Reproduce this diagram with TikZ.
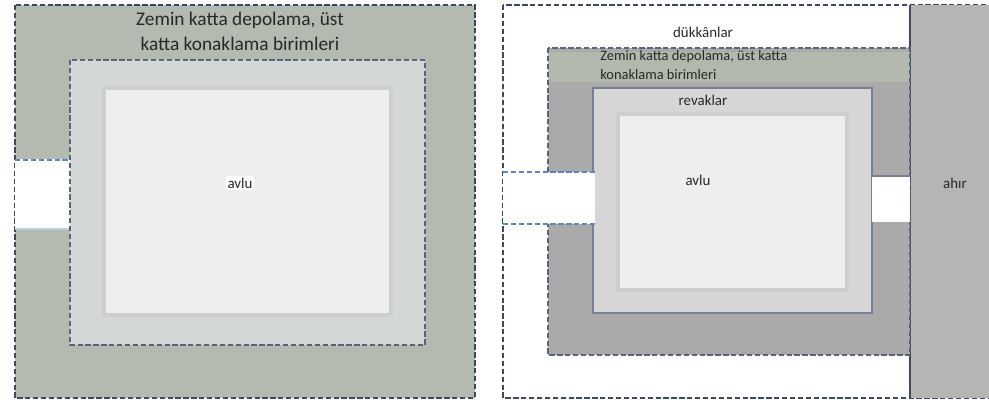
\documentclass[tikz,border=0pt]{standalone}
\usepackage{fontspec}
\setmainfont{Carlito}
\usepackage{tikz}
\usetikzlibrary{positioning}
\definecolor{myframe}{RGB}{60,72,100}
\definecolor{myblue}{RGB}{90,135,195}
\definecolor{outgreen}{RGB}{181,186,176}
\definecolor{bandgray}{RGB}{211,215,213}
\definecolor{yardgray}{RGB}{238,238,238}
\definecolor{yardedge}{RGB}{205,207,207}
\definecolor{midgray}{RGB}{170,170,170}
\definecolor{midgreen}{RGB}{178,184,172}
\definecolor{revgray}{RGB}{213,214,213}
\definecolor{colgray}{RGB}{180,182,180}
\definecolor{txtdark}{RGB}{40,40,40}
\tikzset{
  outerbox/.style={draw=myframe, dash pattern=on 3pt off 1.5pt, line width=1.1pt},
  bandbox/.style={draw=myframe!85, dash pattern=on 3pt off 1.5pt, line width=1pt},
  yardbox/.style={fill=yardgray, draw=yardedge, line width=2pt},
  gapline/.style={draw=myblue, dash pattern=on 3pt off 1.5pt, line width=1.1pt},
  lbl/.style={font=\fontsize{8.5}{10}\selectfont, color=txtdark, inner sep=1pt},
  titlelbl/.style={font=\fontsize{11}{14.2}\selectfont, color=txtdark, align=center, inner sep=0pt},
  smalltitle/.style={font=\fontsize{8.2}{10.8}\selectfont, color=txtdark, align=left, inner sep=0pt}
}
\begin{document}
\begin{tikzpicture}[x=0.02cm, y=-0.02cm]
  \useasboundingbox (0,0) rectangle (989,402);
  % left plan
  \fill[outgreen] (15,5) rectangle (475,398);
  \draw[outerbox] (15,5) rectangle (475,398);
  \fill[white] (15,159) rectangle (70,230);
  \draw[gapline] (15,160) -- (70,160);
  \draw[myblue!40, line width=0.6pt] (15,229) -- (70,229);
  \fill[bandgray] (70,60) rectangle (425,345);
  \draw[bandbox] (70,60) rectangle (425,345);
  \draw[yardbox] (104,88) rectangle (391,315);
  \node[titlelbl] (lefttitle) at (240,31) {Zemin katta depolama, üst\\katta konaklama birimleri};
  \node[lbl, fill=white] (leftyard) at (240,183) {avlu};
  % right plan
  \fill[white] (503,5) rectangle (988,398);
  \draw[outerbox] (503,5) rectangle (988,398);
  \fill[colgray] (910,5) rectangle (989,398);
  \draw[myframe, line width=0.9pt] (910,5) -- (910,398);
  \fill[midgray] (548,48) rectangle (910,355);
  \fill[midgreen] (548,52) rectangle (910,82);
  \draw[bandbox] (548,48) rectangle (910,355);
  \fill[revgray] (593,88) rectangle (872,313);
  \draw[myframe!70, line width=0.8pt] (593,88) rectangle (872,313);
  \draw[yardbox] (618,114) rectangle (847,290);
  \fill[white] (503,172) rectangle (595,224);
  \draw[gapline] (503,172) -- (595,172);
  \draw[gapline] (503,224) -- (595,224);
  \fill[white] (872,176) rectangle (910,222);
  \draw[myframe!70, line width=0.8pt] (872,176) -- (910,176);
  \node[lbl] (shops) at (703,32) {dükkânlar};
  \node[smalltitle, anchor=north west] (righttitle) at (600,50) {Zemin katta depolama, üst katta\\konaklama birimleri};
  \node[lbl] (arcades) at (703,100) {revaklar};
  \node[lbl] (rightyard) at (698,180) {avlu};
  \node[lbl] (stable) at (955,183) {ahır};
\end{tikzpicture}
\end{document}
